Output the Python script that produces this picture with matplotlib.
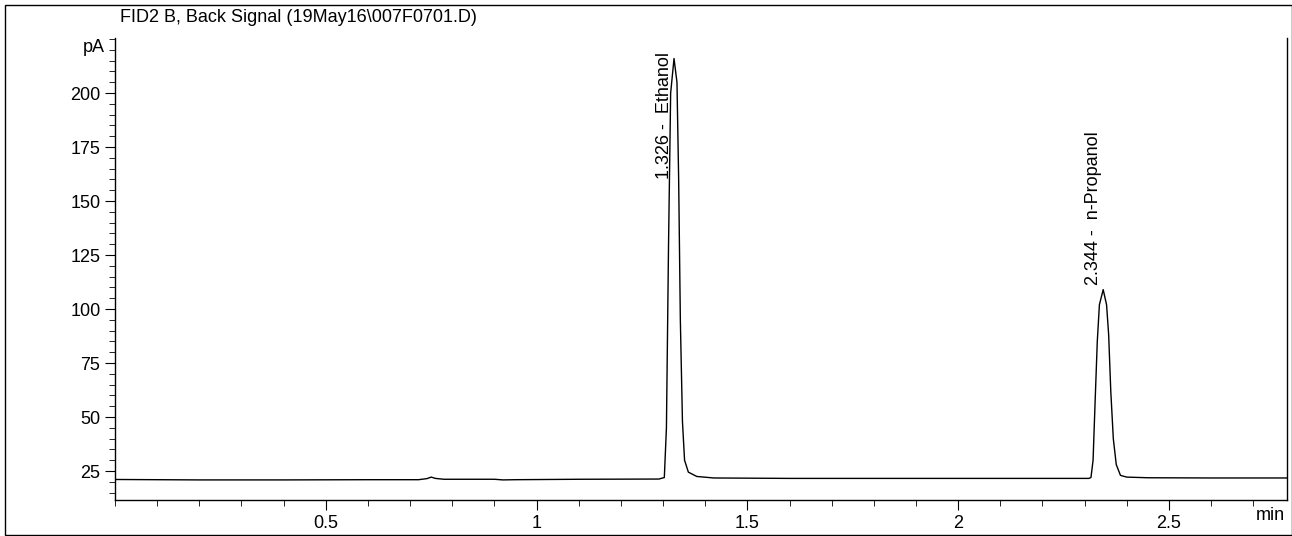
import matplotlib.pyplot as plt
from matplotlib.ticker import MultipleLocator
from matplotlib.patches import Rectangle

plt.rcParams['font.family'] = ['Liberation Sans', 'DejaVu Sans']

# trace points (min, pA)
time = [0.0, 0.1, 0.2, 0.4, 0.6, 0.72, 0.74, 0.75, 0.76, 0.78, 0.9, 0.92, 0.95, 1.1, 1.29,
        1.303, 1.308, 1.313, 1.318, 1.326, 1.333, 1.337, 1.341, 1.346, 1.351, 1.36, 1.38, 1.42,
        1.6, 2.0, 2.31, 2.315, 2.32, 2.325, 2.33, 2.335, 2.344, 2.352, 2.357, 2.362, 2.368,
        2.375, 2.385, 2.40, 2.45, 2.6, 2.8]
signal = [21.1, 21.0, 20.9, 20.9, 21.0, 21.0, 21.5, 22.2, 21.6, 21.2, 21.2, 20.9, 21.0, 21.2, 21.3,
          22.0, 45, 130, 200, 216, 205, 160, 95, 48, 30, 24.5, 22.5, 21.8,
          21.6, 21.6, 21.6, 22.0, 30, 58, 85, 102, 109, 102, 88, 62, 40,
          28, 23, 22.2, 21.9, 21.8, 21.8]

peak_rt = [1.326, 2.344]
peak_names = ["Ethanol", "n-Propanol"]
label_y = [160, 111]

fig = plt.figure(figsize=(12.92, 5.36), dpi=100)
ax = fig.add_axes([115 / 1292, 36 / 536, (1287 - 115) / 1292, (500 - 38) / 536])
ax.plot(time, signal, color="black", lw=1)

ax.set_xlim(0, 2.78)
ax.set_ylim(11.6, 225.5)
ax.xaxis.set_major_locator(MultipleLocator(0.5))
ax.xaxis.set_minor_locator(MultipleLocator(0.1))
ax.yaxis.set_major_locator(MultipleLocator(25))
ax.yaxis.set_minor_locator(MultipleLocator(5))
ax.set_yticks([25, 50, 75, 100, 125, 150, 175, 200])
ax.set_xticks([0.5, 1, 1.5, 2, 2.5])
ax.set_xticklabels(["0.5", "1", "1.5", "2", "2.5"])
ax.tick_params(which="major", direction="out", length=7, labelsize=13)
ax.tick_params(which="minor", direction="out", length=4)
ax.spines["top"].set_visible(False)
for s in ["left", "bottom", "right"]:
    ax.spines[s].set_linewidth(1)

ax.text(-0.025, 221, "pA", ha="right", va="center", fontsize=13)
ax.text(2.775, 4.5, "min", ha="right", va="center", fontsize=13)

for rt, name, ly in zip(peak_rt, peak_names, label_y):
    ax.text(rt - 0.022, ly, f"{rt:.3f} -  {name}", rotation=90, ha="center",
            va="bottom", fontsize=13)

fig.text(120 / 1292, 1 - 17 / 536, "FID2 B, Back Signal (19May16\\007F0701.D)",
         ha="left", va="center", fontsize=13)
fig.patches.append(Rectangle((5 / 1292, 0.002), 1 - 5 / 1292, 1 - 5 / 536 - 0.002,
                             transform=fig.transFigure, fill=False, lw=1, color="black"))

fig.savefig("out.png", dpi=100)
